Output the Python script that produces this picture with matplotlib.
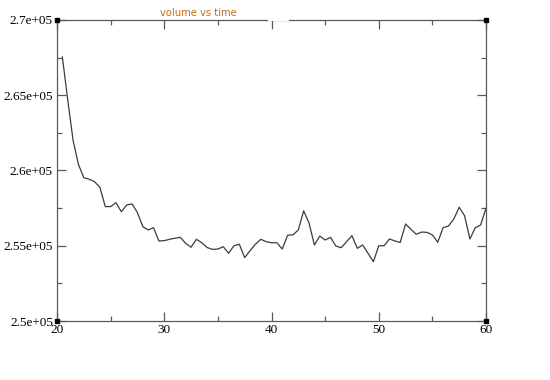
import matplotlib
matplotlib.use("Agg")
import matplotlib.pyplot as plt
from matplotlib.ticker import MultipleLocator, FormatStrFormatter, FuncFormatter
from matplotlib.patches import Rectangle
import numpy as np

plt.rcParams["font.family"] = ["Liberation Serif", "DejaVu Serif"]

# time (every 0.5 from 20.5 to 60)
time = np.arange(20.5, 60.01, 0.5)
volume = [
    267540, 264700, 262000, 260400, 259520, 259420, 259260, 258880,
    257600, 257600, 257860, 257260, 257710, 257780, 257200, 256270,
    256050, 256200, 255320, 255340, 255430, 255500, 255560, 255160,
    254900, 255430, 255200, 254880, 254760, 254780, 254940, 254500,
    255000, 255100, 254210, 254670, 255100, 255430, 255270, 255200,
    255200, 254780, 255700, 255720, 256050, 257320, 256510, 255050,
    255650, 255380, 255560, 254980, 254870, 255270, 255670, 254830,
    255050, 254500, 253940, 255000, 255000, 255450, 255320, 255220,
    256450, 256090, 255760, 255910, 255890, 255720, 255230, 256200,
    256310, 256780, 257560, 257000, 255450, 256200, 256380, 257490,
]
xlim = (20, 60)
ylim = (250000, 270000)

axis_col = "#5a5a5a"

fig = plt.figure(figsize=(5.5, 3.8), dpi=100)
ax = fig.add_axes([57/550, 1 - 321/380, (486-57)/550, (321-20)/380])

ax.plot(time, volume, color="#3c3c3c", linewidth=0.9)

ax.set_xlim(*xlim)
ax.set_ylim(*ylim)

ax.xaxis.set_major_locator(MultipleLocator(10))
ax.xaxis.set_minor_locator(MultipleLocator(5))
ax.yaxis.set_major_locator(MultipleLocator(5000))
ax.yaxis.set_minor_locator(MultipleLocator(2500))
ax.xaxis.set_major_formatter(FormatStrFormatter("%g"))
ax.yaxis.set_major_formatter(FuncFormatter(lambda v, p: "%ge+05" % (v / 1e5)))

ax.tick_params(which="both", direction="in", top=True, right=True,
               color=axis_col, width=0.9, labelsize=9.5, labelcolor="black")
ax.tick_params(which="major", length=6.5)
ax.tick_params(which="minor", length=3.3)
ax.tick_params(axis="x", pad=2)
ax.tick_params(axis="y", pad=3)

for sp in ax.spines.values():
    sp.set_color(axis_col)
    sp.set_linewidth(0.9)

# small black squares at the corners
cx = [xlim[0], xlim[0], xlim[1], xlim[1]]
cy = [ylim[0], ylim[1], ylim[1], ylim[0]]
ax.plot(cx, cy, linestyle="none", marker="s", markersize=3.5,
        color="black", clip_on=False, zorder=5)

# white box behind the title that hides a bit of the top frame
fig.patches.append(Rectangle((268/550, 1 - 21/380), 21/550, 21/380,
                             transform=fig.transFigure, facecolor="white",
                             edgecolor="none", zorder=10))

fig.text(198/550, 1 - 12.5/380, "volume vs time", ha="center", va="center",
         fontsize=8, color="#c07018", stretch="condensed",
         family=["Liberation Sans Narrow", "DejaVu Sans"])

fig.savefig("out.png", dpi=100)
